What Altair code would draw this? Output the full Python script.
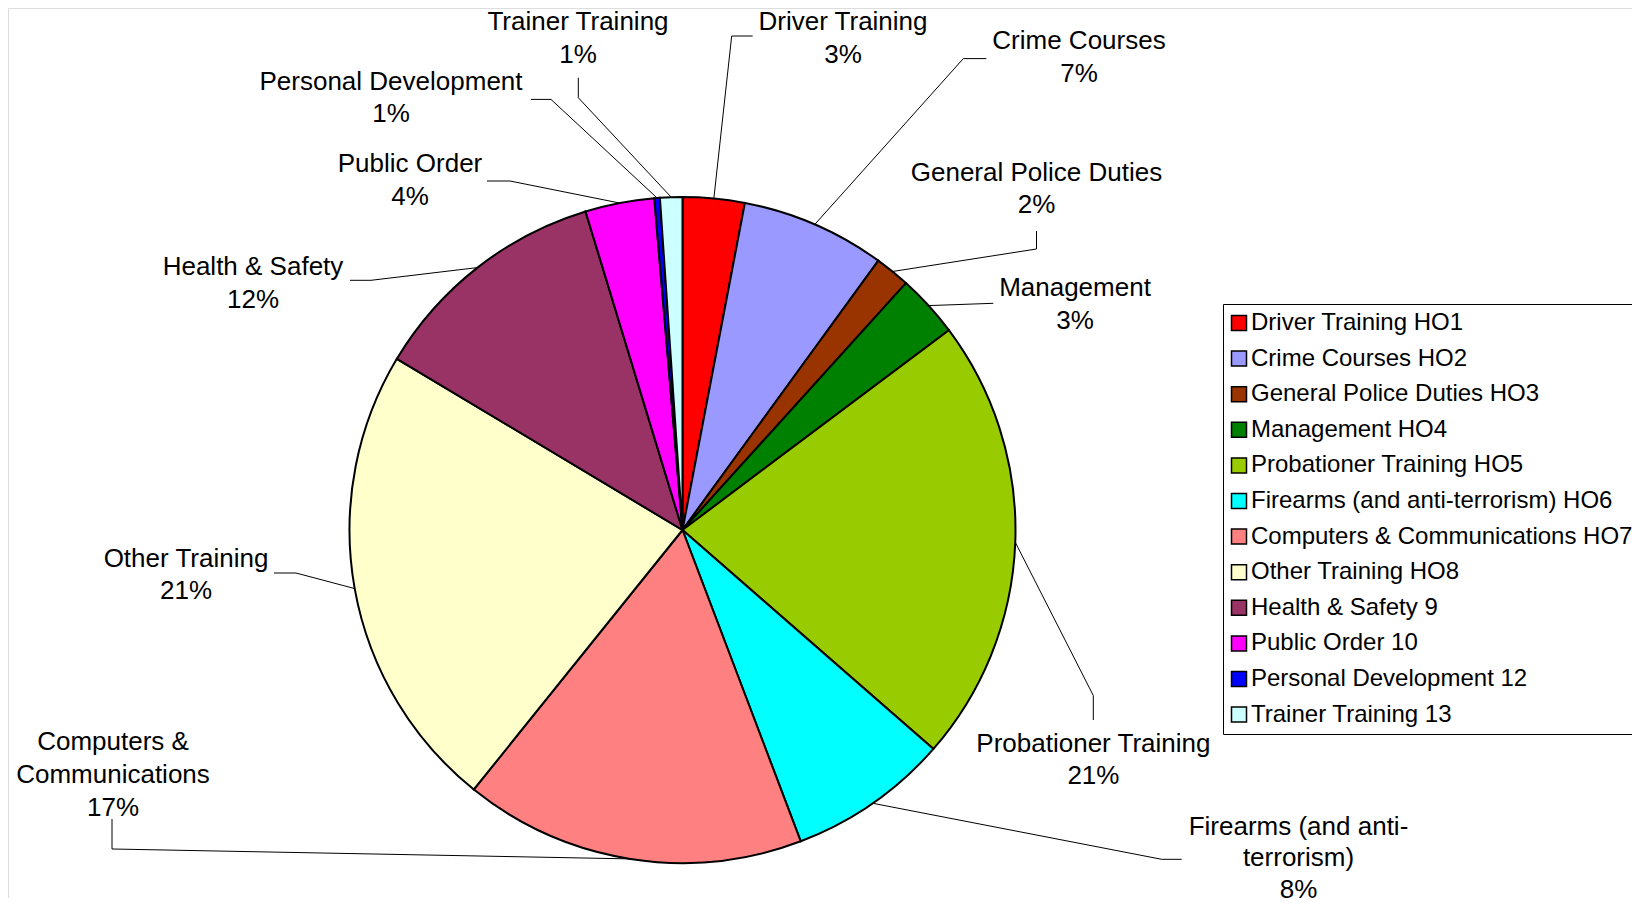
import math
import altair as alt
import pandas as pd

# ---------------- data ----------------
slice_names = [
    "Driver Training", "Crime Courses", "General Police Duties", "Management",
    "Probationer Training", "Firearms (and anti-terrorism)", "Computers & Communications",
    "Other Training", "Health & Safety", "Public Order", "Personal Development",
    "Trainer Training",
]
legend_names = [
    "Driver Training HO1", "Crime Courses HO2", "General Police Duties HO3",
    "Management HO4", "Probationer Training HO5", "Firearms (and anti-terrorism) HO6",
    "Computers & Communications HO7", "Other Training HO8", "Health & Safety 9",
    "Public Order 10", "Personal Development 12", "Trainer Training 13",
]
values = [3.0, 7.0, 1.7, 3.05, 21.65, 7.8, 16.55, 22.8, 11.7, 3.35, 0.27, 1.08]
pct_labels = ["3%", "7%", "2%", "3%", "21%", "8%", "17%", "21%", "12%", "4%", "1%", "1%"]
label_lines = [
    ["Driver Training"], ["Crime Courses"], ["General Police Duties"], ["Management"],
    ["Probationer Training"], ["Firearms (and anti-", "terrorism)"],
    ["Computers &", "Communications"], ["Other Training"], ["Health & Safety"],
    ["Public Order"], ["Personal Development"], ["Trainer Training"],
]
colors = [
    "#FF0000", "#9999FF", "#993300", "#008000", "#99CC00", "#00FFFF",
    "#FF8080", "#FFFFCC", "#993366", "#FF00FF", "#0000FF", "#CCFFFF",
]

# ---------------- layout (page pixels) ----------------
OFF = 8  # page margin
CX, CY, R = 682.5 - OFF, 530.0 - OFF, 333.0
FONT = "Liberation Sans"
FS = 26
# centre x of label block, centre y of its first line, line spacing
label_pos = [
    (843, 21, 32.5), (1079, 40, 32.5), (1036.5, 171.5, 32.5), (1075, 287, 32.5),
    (1093.4, 742.5, 32.5), (1298.5, 825.5, 31.6), (113, 740.5, 33),
    (186, 557.5, 32.5), (253, 265.7, 32.5), (410, 163, 32.5),
    (391, 80.5, 32.5), (578, 21, 32.5),
]
# leader elbows and ends
leader_elbow = [
    (731.7, 36), (963.3, 58.6), (1036.5, 249), (993.3, 303.3), (1093.3, 695.5),
    (1161.7, 859.3), (112, 849), (296, 573), (371, 280.3), (510, 181),
    (551, 99.4), (578.3, 97.7),
]
leader_end = [
    (752.7, 36), (986.3, 58.6), (1036.5, 231), (993.3, 303.3), (1093.3, 720),
    (1181.7, 859.3), (112, 819), (274, 573), (350, 280.3), (487, 181),
    (531, 99.4), (578.3, 77.7),
]

# ---------------- tables ----------------
pie_df = pd.DataFrame({
    "idx": list(range(len(values))),
    "legend": legend_names,
    "value": values,
})

text_rows, seg_rows = [], []
total = sum(values)
cum = 0.0
for i, v in enumerate(values):
    mid = (cum + v / 2) / total
    cum += v
    ang = 2 * math.pi * mid
    sx, sy = CX + R * math.sin(ang), CY - R * math.cos(ang)
    ex, ey = leader_elbow[i][0] - OFF, leader_elbow[i][1] - OFF
    tx, ty = leader_end[i][0] - OFF, leader_end[i][1] - OFF
    seg_rows.append({"x": sx, "y": sy, "x2": ex, "y2": ey})
    seg_rows.append({"x": ex, "y": ey, "x2": tx, "y2": ty})
    lx, ly, lh = label_pos[i]
    lines = label_lines[i] + [pct_labels[i]]
    for k, t in enumerate(lines):
        text_rows.append({"x": lx - OFF, "y": ly - OFF + k * lh + 0.358 * FS, "t": t})

seg_df = pd.DataFrame(seg_rows)
text_df = pd.DataFrame(text_rows)

# ---------------- chart ----------------
pie = alt.Chart(pie_df).mark_arc(
    radius=R, x=CX, y=CY, stroke="black", strokeWidth=2
).encode(
    theta=alt.Theta("value:Q", stack=True),
    order=alt.Order("idx:Q"),
    color=alt.Color(
        "legend:N",
        scale=alt.Scale(domain=legend_names, range=colors),
        legend=alt.Legend(
            title=None, orient="none", legendX=1223 - OFF, legendY=304 - OFF,
            symbolType="square", symbolSize=225, symbolStrokeColor="black",
            symbolStrokeWidth=1.5, symbolOpacity=1, symbolOffset=-3,
            labelFont=FONT, labelFontSize=24, labelColor="black", labelOffset=0,
            labelLimit=600, rowPadding=11.6, padding=7,
            strokeColor="black", fillColor="white",
        ),
    ),
)

leaders = alt.Chart(seg_df).mark_rule(color="black", strokeWidth=1).encode(
    x=alt.X("x:Q", scale=None), y=alt.Y("y:Q", scale=None),
    x2="x2:Q", y2="y2:Q",
)

texts = alt.Chart(text_df).mark_text(
    font=FONT, fontSize=FS, color="black", align="center", baseline="alphabetic"
).encode(x=alt.X("x:Q", scale=None), y=alt.Y("y:Q", scale=None), text="t:N")

chart = alt.layer(leaders, pie, texts).properties(
    width=1640 - 2 * OFF, height=906 - 2 * OFF,
    autosize=alt.AutoSizeParams(type="none"), padding=0,
).configure_view(strokeWidth=0, stroke="transparent").configure(background="white")

chart.save("out.html", embed_options={"renderer": "svg", "actions": False})
